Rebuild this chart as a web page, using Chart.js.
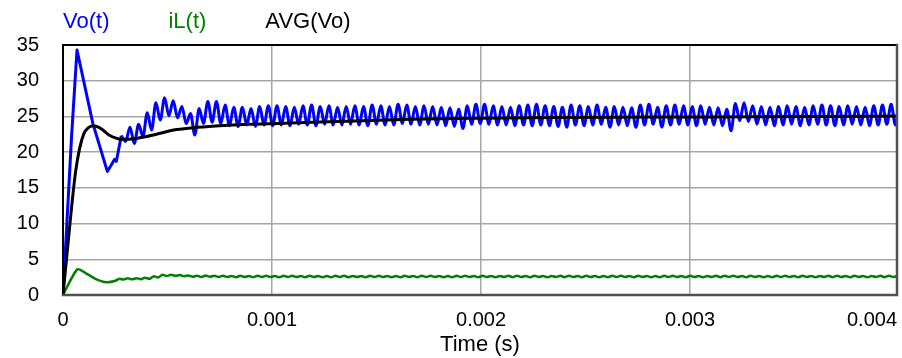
<!DOCTYPE html>
<html>
<head>
<meta charset="utf-8">
<script src="https://cdn.jsdelivr.net/npm/chart.js@4.4.0/dist/chart.umd.min.js"></script>
<style>
  html, body { margin: 0; padding: 0; background: #fff; }
</style>
</head>
<body>
<canvas id="scope" width="902" height="358"></canvas>
<script>
// Vo(t) start-up, sampled at the corners of the trace
const voStartT = [0, 4.1e-5, 6.7e-5, 1.43e-4, 2.12e-4, 2.31e-4, 2.47e-4, 2.55e-4];
const voStartV = [0, 22.2, 34.3, 24.0, 17.3, 18.2, 19.0, 18.7];

// switching ripple: crest / valley pairs, one half period apart
const RIPPLE_HALF = 2.069e-5;
const voRippleT0 = 2.79e-4;
const voRipple = [
  22.3, 21.5,  23.5, 21.2,  23.9, 22.2,  25.5, 23.1,  26.9, 24.5,
  27.6, 25.1,  27.2, 24.8,  26.4, 24.0,  25.4, 22.4,  26.1, 24.0,
  27.1, 24.2,  27.1, 24.0,  26.6, 23.7,  26.3, 23.6,  26.3, 23.8,
  26.1, 23.6,  26.4, 23.8,  26.5, 23.7,  26.5, 23.8,  26.4, 23.7,
  26.3, 23.9,  26.5, 23.8,  26.6, 23.7,  26.4, 23.9,  26.5, 23.8,
  26.3, 23.8,  26.4, 23.9,  26.5, 23.8,  26.4, 23.7,  26.6, 23.9,
  26.5, 23.8,  26.4, 23.8,  26.7, 24.0,  26.6, 23.9,  26.4, 23.8,
  26.5, 23.9,  26.4, 23.8,  26.3, 23.7,  26.2, 23.6,  26.0, 23.3,
  26.5, 23.9,  26.7, 24.0,  26.7, 23.9,  26.5, 23.8,  26.4, 23.8,
  26.3, 23.7,  26.5, 23.8,  26.6, 23.7,  26.7, 23.8,  26.5, 23.7,
  26.4, 23.6,  26.3, 23.5,  26.6, 23.8,  26.5, 23.7,  26.4, 23.8,
  26.6, 23.9,  26.3, 23.5,  26.4, 23.8,  26.3, 23.7,  26.2, 23.5,
  26.6, 23.8,  26.7, 23.9,  26.3, 23.5,  26.5, 23.8,  26.6, 23.9,
  26.5, 23.8,  26.4, 23.7,  26.5, 23.9,  26.3, 23.8,  26.2, 23.7,
  26.0, 23.0,  26.8, 24.4,  26.9, 24.3,  26.5, 23.9,  26.4, 23.8,
  26.3, 23.7,  26.4, 23.8,  26.5, 23.9,  26.4, 23.7,  26.3, 23.8,
  26.5, 23.9,  26.6, 23.8,  26.5, 23.7,  26.4, 23.8,  26.5, 23.9,
  26.4, 23.8,  26.3, 23.7,  26.5, 23.8,  26.6, 23.9,  26.7, 23.8,
  26.5, 23.8
];

// inductor current
const iLStartT = [0, 6.9e-5, 1.12e-4, 1.6e-4, 2.07e-4, 2.47e-4];
const iLStartV = [0, 3.6, 3.0, 2.2, 1.8, 1.95];
const iLRippleT0 = 2.69e-4;
const iLRipple = [
  2.30, 2.18,  2.33, 2.20,  2.36, 2.22,  2.42, 2.28,  2.62, 2.46,
  2.82, 2.66,  2.84, 2.68,  2.80, 2.63,  2.74, 2.56,  2.70, 2.53,
  2.72, 2.55,  2.70, 2.52,  2.68, 2.51,  2.66, 2.50,  2.68, 2.52,
  2.67, 2.50,  2.69, 2.52,  2.68, 2.51,  2.66, 2.49,  2.68, 2.52,
  2.69, 2.51,  2.67, 2.50,  2.68, 2.52,  2.66, 2.50,  2.67, 2.49,
  2.69, 2.52,  2.68, 2.50,  2.66, 2.51,  2.67, 2.50,  2.68, 2.52,
  2.70, 2.51,  2.67, 2.50,  2.66, 2.49,  2.68, 2.52,  2.67, 2.50,
  2.69, 2.51,  2.68, 2.52,  2.66, 2.50,  2.67, 2.49,  2.68, 2.51,
  2.69, 2.52,  2.67, 2.50,  2.68, 2.51,  2.66, 2.50,  2.67, 2.52,
  2.68, 2.50,  2.69, 2.51,  2.67, 2.49,  2.68, 2.52,  2.66, 2.50,
  2.67, 2.51,  2.68, 2.50,  2.69, 2.52,  2.67, 2.50,  2.68, 2.51,
  2.66, 2.49,  2.67, 2.50,  2.68, 2.52,  2.69, 2.51,  2.67, 2.50,
  2.68, 2.52,  2.66, 2.50,  2.67, 2.49,  2.68, 2.51,  2.69, 2.52,
  2.67, 2.50,  2.68, 2.51,  2.66, 2.50,  2.67, 2.52,  2.68, 2.50,
  2.70, 2.53,  2.68, 2.51,  2.67, 2.50,  2.68, 2.52,  2.66, 2.49,
  2.67, 2.50,  2.68, 2.51,  2.69, 2.52,  2.67, 2.50,  2.68, 2.51,
  2.66, 2.50,  2.67, 2.52,  2.68, 2.50,  2.69, 2.51,  2.67, 2.49,
  2.68, 2.52,  2.66, 2.50,  2.67, 2.51,  2.68, 2.50,  2.69, 2.52,
  2.67, 2.50
];

// running average of Vo
const avgT = [0, 1.5e-5, 3.0e-5, 4.5e-5, 6.0e-5, 8.0e-5, 1.0e-4, 1.2e-4, 1.45e-4, 1.7e-4,
              1.95e-4, 2.2e-4, 2.5e-4, 2.8e-4, 3.3e-4, 4.0e-4, 4.6e-4, 5.3e-4, 6.2e-4, 7.3e-4,
              8.9e-4, 1.13e-3, 1.32e-3, 1.66e-3, 1.99e-3, 2.33e-3, 2.66e-3, 3.0e-3, 3.33e-3, 3.66e-3, 4.0e-3];
const avgV = [0, 4.5, 9.0, 13.4, 17.2, 20.6, 22.6, 23.4, 23.7, 23.5,
              23.0, 22.4, 22.0, 21.8, 21.85, 22.2, 22.6, 23.1, 23.4, 23.65,
              23.9, 24.1, 24.3, 24.6, 24.75, 24.85, 24.9, 24.92, 24.95, 25.0, 25.05];

const xTicks = [0, 0.001, 0.002, 0.003];
const xEndLabel = '0.004';
const yTicks = [0, 5, 10, 15, 20, 25, 30, 35];
const X_MAX = 0.00399;

const FAMILY = '"Liberation Sans", Arial, sans-serif';
const TICK_FONT = { family: FAMILY, size: 20 };
const LABEL_FONT = { family: FAMILY, size: 22 };
const X_TICK_PAD = 13;

const BLUE = '#0000ff';
const GREEN = '#008000';

function points(ts, vs) {
  return ts.map((t, i) => ({ x: t, y: vs[i] }));
}
function ripplePoints(t0, ripple) {
  return ripple.map((v, i) => ({ x: t0 + i * RIPPLE_HALF, y: v }));
}

// start-up pieces are straight segments; they end on the first ripple crest
const voStart = points(voStartT, voStartV).concat(ripplePoints(voRippleT0, voRipple).slice(0, 1));
const iLStart = points(iLStartT, iLStartV).concat(ripplePoints(iLRippleT0, iLRipple).slice(0, 1));

// frame, text legend and the right-hand tick label (kept inside the canvas)
const scopeDecor = {
  id: 'scopeDecor',
  afterDraw(chart) {
    const { ctx, chartArea: a } = chart;
    ctx.save();
    ctx.lineCap = 'square';
    ctx.strokeStyle = '#000';
    ctx.lineWidth = 2;
    ctx.beginPath();
    ctx.moveTo(a.left, a.bottom);
    ctx.lineTo(a.left, a.top);
    ctx.lineTo(a.right, a.top);
    ctx.stroke();
    ctx.strokeStyle = '#505050';
    ctx.lineWidth = 2.5;
    ctx.beginPath();
    ctx.moveTo(a.right, a.top);
    ctx.lineTo(a.right, a.bottom);
    ctx.lineTo(a.left, a.bottom);
    ctx.stroke();

    ctx.textBaseline = 'middle';
    ctx.textAlign = 'left';
    ctx.font = LABEL_FONT.size + 'px ' + FAMILY;
    let x = a.left;
    chart.data.datasets.filter(ds => ds.label).forEach(ds => {
      ctx.fillStyle = ds.borderColor;
      ctx.fillText(ds.label, x, 22);
      x += ctx.measureText(ds.label).width + 59;
    });

    ctx.font = TICK_FONT.size + 'px ' + FAMILY;
    ctx.fillStyle = '#000';
    ctx.textAlign = 'right';
    ctx.fillText(xEndLabel, a.right, a.bottom + X_TICK_PAD + TICK_FONT.size * 0.6);
    ctx.restore();
  }
};

new Chart(document.getElementById('scope'), {
  type: 'line',
  data: {
    datasets: [{
      label: 'Vo(t)',
      data: ripplePoints(voRippleT0, voRipple),
      borderColor: BLUE,
      borderWidth: 3,
      cubicInterpolationMode: 'monotone',
      order: 3
    }, {
      label: 'iL(t)',
      data: ripplePoints(iLRippleT0, iLRipple),
      borderColor: GREEN,
      borderWidth: 2.5,
      cubicInterpolationMode: 'monotone',
      order: 1
    }, {
      label: 'AVG(Vo)',
      data: points(avgT, avgV),
      borderColor: '#000000',
      borderWidth: 3,
      cubicInterpolationMode: 'monotone',
      order: 0
    }, {
      data: voStart,
      borderColor: BLUE,
      borderWidth: 3,
      borderJoinStyle: 'round',
      tension: 0,
      order: 2
    }, {
      data: iLStart,
      borderColor: GREEN,
      borderWidth: 2.5,
      borderJoinStyle: 'round',
      tension: 0.25,
      order: 1
    }]
  },
  options: {
    responsive: false,
    animation: false,
    events: [],
    elements: { point: { radius: 0 } },
    layout: { padding: { left: 0, right: 5, top: 45, bottom: 0 } },
    plugins: {
      legend: { display: false },
      tooltip: { enabled: false }
    },
    scales: {
      x: {
        type: 'linear',
        min: 0,
        max: X_MAX,
        afterBuildTicks: s => { s.ticks = xTicks.map(v => ({ value: v })); },
        afterFit: s => { s.height = 63; },
        border: { display: false },
        grid: { color: '#a6a6a6', lineWidth: 1.5, drawTicks: false },
        ticks: {
          color: '#000',
          font: TICK_FONT,
          padding: X_TICK_PAD,
          maxRotation: 0,
          callback: v => String(v)
        },
        title: {
          display: true,
          text: 'Time (s)',
          color: '#000',
          font: LABEL_FONT,
          padding: { top: 0, bottom: 0 }
        }
      },
      y: {
        min: 0,
        max: 35,
        afterBuildTicks: s => { s.ticks = yTicks.map(v => ({ value: v })); },
        afterFit: s => { s.width = 63; },
        border: { display: false },
        grid: { color: '#a6a6a6', lineWidth: 1.5, drawTicks: false },
        ticks: { color: '#000', font: TICK_FONT, padding: 24 }
      }
    }
  },
  plugins: [scopeDecor]
});
</script>
</body>
</html>
